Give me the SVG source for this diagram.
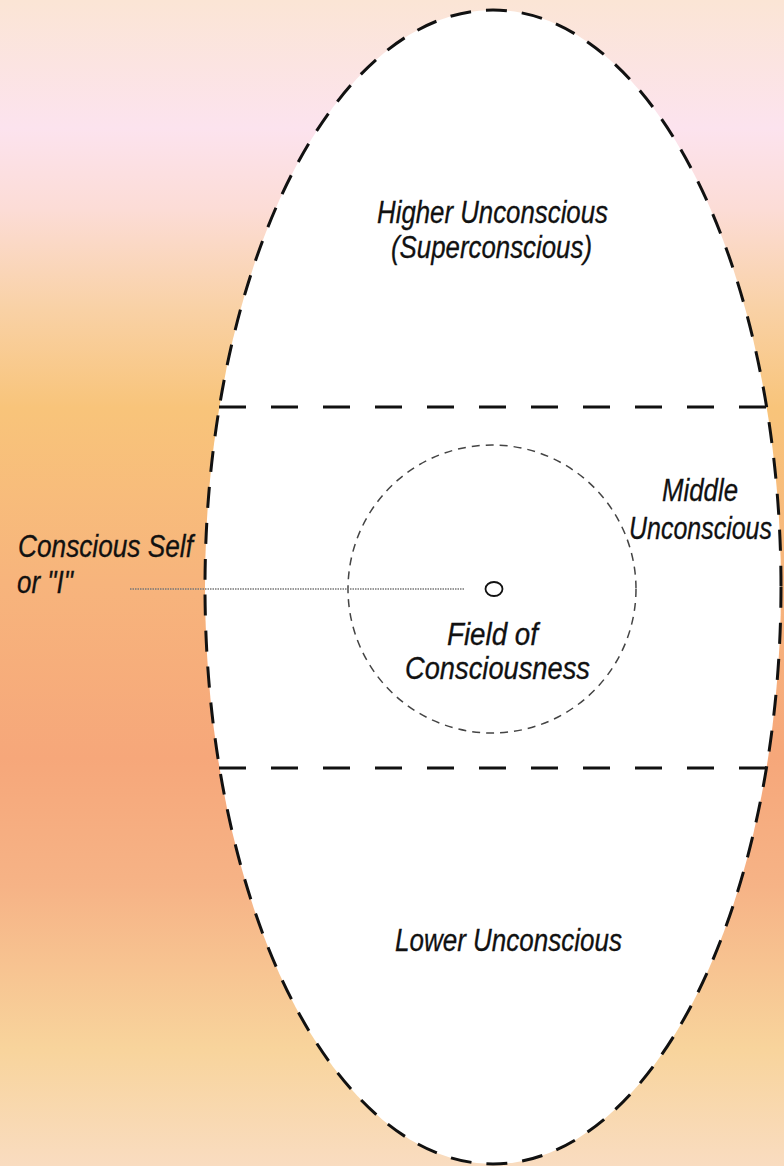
<svg xmlns="http://www.w3.org/2000/svg" width="784" height="1166" viewBox="0 0 784 1166">
  <defs>
    <linearGradient id="bg" x1="0" y1="0" x2="0" y2="1">
      <stop offset="0" stop-color="#fbe5d5"/>
      <stop offset="0.11" stop-color="#fce3ee"/>
      <stop offset="0.18" stop-color="#fcdcd6"/>
      <stop offset="0.26" stop-color="#f9d2a8"/>
      <stop offset="0.35" stop-color="#f8c47a"/>
      <stop offset="0.5" stop-color="#f7b47c"/>
      <stop offset="0.65" stop-color="#f6a77a"/>
      <stop offset="0.76" stop-color="#f6b386"/>
      <stop offset="0.9" stop-color="#f8d49c"/>
      <stop offset="1" stop-color="#f9dcc0"/>
    </linearGradient>
    <style>
      .lbl { font-family: "Liberation Sans", Arial, sans-serif; font-style: italic; font-size: 31px; fill: #111; stroke: #111; stroke-width: 0.3; }
      .bold-dash { stroke: #111; stroke-width: 3; }
    </style>
  </defs>
  <rect x="0" y="0" width="784" height="1166" fill="url(#bg)"/>

  <g id="psyche">
    <ellipse cx="493" cy="587" rx="288" ry="577" fill="#ffffff" class="bold-dash" stroke-dasharray="21 15"/>
  </g>

  <g id="middle-band">
    <line x1="219" y1="407" x2="767" y2="407" fill="none" class="bold-dash" stroke-dasharray="27 25"/>
    <line x1="219" y1="768" x2="767" y2="768" fill="none" class="bold-dash" stroke-dasharray="27 25"/>
  </g>

  <g id="field-of-consciousness">
    <circle cx="492" cy="589" r="144" fill="none" stroke="#444" stroke-width="1.5" stroke-dasharray="8 6"/>
    <text class="lbl" x="447" y="645" textLength="91" lengthAdjust="spacingAndGlyphs">Field of</text>
    <text class="lbl" x="405" y="679" textLength="185" lengthAdjust="spacingAndGlyphs">Consciousness</text>
  </g>

  <g id="self">
    <ellipse cx="494" cy="589" rx="8.5" ry="7" fill="#fff" stroke="#111" stroke-width="1.8"/>
  </g>

  <g id="higher-unconscious">
    <text class="lbl" x="377" y="223" textLength="231" lengthAdjust="spacingAndGlyphs">Higher Unconscious</text>
    <text class="lbl" x="391" y="258" textLength="201" lengthAdjust="spacingAndGlyphs">(Superconscious)</text>
  </g>

  <g id="middle-unconscious">
    <text class="lbl" x="662" y="501" textLength="76" lengthAdjust="spacingAndGlyphs">Middle</text>
    <text class="lbl" x="629" y="539" textLength="143" lengthAdjust="spacingAndGlyphs">Unconscious</text>
  </g>

  <g id="lower-unconscious">
    <text class="lbl" x="395" y="951" textLength="227" lengthAdjust="spacingAndGlyphs">Lower Unconscious</text>
  </g>

  <g id="conscious-self-label">
    <text class="lbl" x="18" y="557" textLength="175" lengthAdjust="spacingAndGlyphs">Conscious Self</text>
    <text class="lbl" x="17" y="593" textLength="56" lengthAdjust="spacingAndGlyphs">or "I"</text>
  </g>

  <g id="connectors">
    <line x1="130" y1="589" x2="465" y2="589" stroke="#777" stroke-width="1.5" stroke-dasharray="1.5 1"/>
  </g>
</svg>
